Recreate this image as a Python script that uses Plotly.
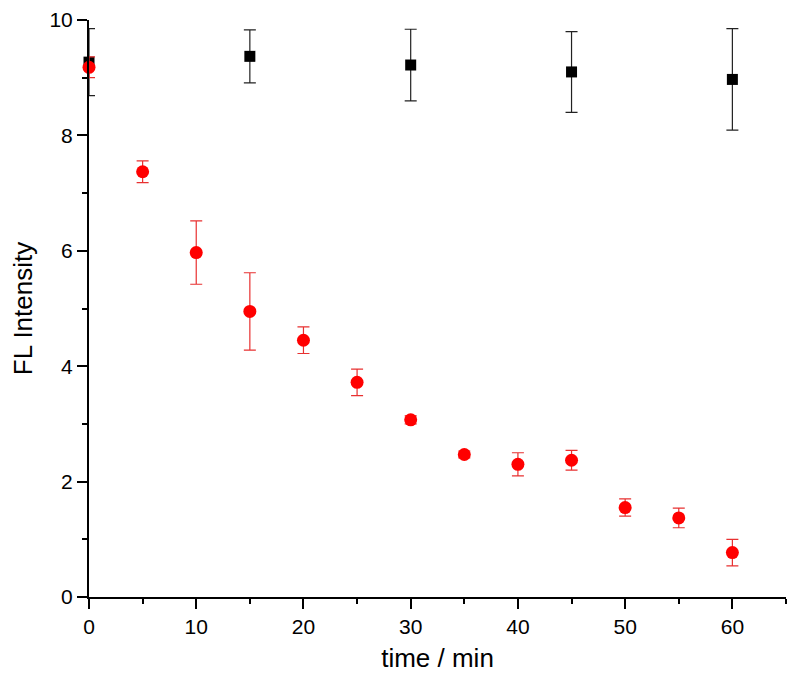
import plotly.graph_objects as go

# Data
time_red = [0, 5, 10, 15, 20, 25, 30, 35, 40, 45, 50, 55, 60]
fl_red = [9.18, 7.37, 5.97, 4.95, 4.45, 3.72, 3.07, 2.47, 2.30, 2.37, 1.55, 1.37, 0.77]
err_red = [0.18, 0.19, 0.55, 0.67, 0.23, 0.23, 0.07, 0.06, 0.20, 0.17, 0.15, 0.17, 0.23]

time_black = [0, 15, 30, 45, 60]
fl_black = [9.27, 9.37, 9.22, 9.10, 8.97]
err_black = [0.58, 0.46, 0.62, 0.70, 0.88]

fig = go.Figure()
fig.add_trace(go.Scatter(
    x=time_black, y=fl_black, mode="markers",
    marker=dict(symbol="square", size=11, color="black"),
    error_y=dict(type="data", array=err_black, color="#222222", thickness=1.2, width=6),
    cliponaxis=False, showlegend=False,
))
fig.add_trace(go.Scatter(
    x=time_red, y=fl_red, mode="markers",
    marker=dict(symbol="circle", size=13, color="#ff0000"),
    error_y=dict(type="data", array=err_red, color="#e83030", thickness=1.2, width=6),
    cliponaxis=False, showlegend=False,
))

FONT = "Liberation Sans, Arial, sans-serif"
tick_font = dict(family=FONT, size=21, color="black")
title_font = dict(family=FONT, size=26, color="black")
fig.update_layout(
    width=792, height=678,
    margin=dict(l=81, r=14, t=12, b=89),
    plot_bgcolor="white", paper_bgcolor="white",
    font=tick_font,
    xaxis=dict(
        range=[0, 65], tickvals=[0, 10, 20, 30, 40, 50, 60],
        showline=True, linecolor="black", linewidth=2,
        ticks="outside", ticklen=10, tickwidth=2, tickcolor="black",
        minor=dict(dtick=5, tick0=0, ticks="outside", ticklen=5, tickwidth=2, tickcolor="black"),
        showgrid=False, zeroline=False, automargin=False,
        tickfont=tick_font,
        title=dict(text="time / min", font=title_font, standoff=12),
    ),
    yaxis=dict(
        range=[0, 10], tickvals=[0, 2, 4, 6, 8, 10],
        showline=True, linecolor="black", linewidth=2,
        ticks="outside", ticklen=10, tickwidth=2, tickcolor="black",
        minor=dict(dtick=1, tick0=0, ticks="outside", ticklen=5, tickwidth=2, tickcolor="black"),
        showgrid=False, zeroline=False, automargin=False,
        tickfont=tick_font,
        title=dict(text="FL Intensity", font=title_font, standoff=12),
    ),
)

fig.write_html("out.html")
